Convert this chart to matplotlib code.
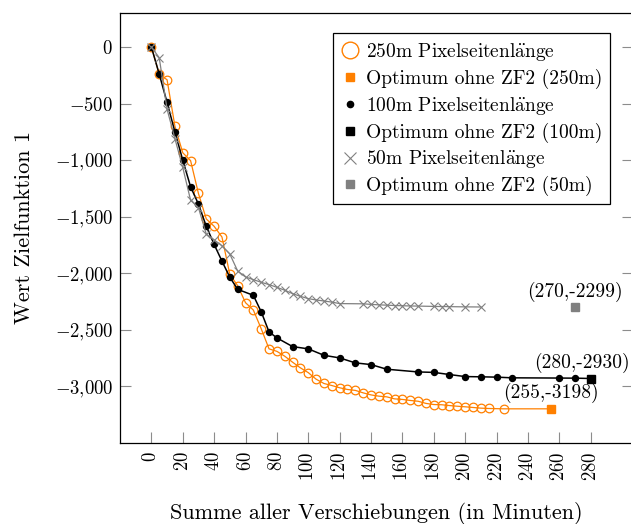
import matplotlib
matplotlib.use("Agg")
import matplotlib.pyplot as plt
from matplotlib.lines import Line2D
from matplotlib.ticker import FuncFormatter

plt.rcParams["font.family"] = "cmr10"
plt.rcParams["mathtext.fontset"] = "cm"
plt.rcParams["axes.formatter.use_mathtext"] = True

# 250m Pixelseitenlaenge
x250 = [0, 5, 10, 15, 20, 25, 30, 35, 40, 45, 50, 55, 60, 65, 70, 75, 80, 85, 90, 95,
        100, 105, 110, 115, 120, 125, 130, 135, 140, 145, 150, 155, 160, 165, 170, 175,
        180, 185, 190, 195, 200, 205, 210, 215, 225]
y250 = [0, -240, -290, -700, -935, -1005, -1295, -1520, -1585, -1680, -2010, -2110, -2260,
        -2325, -2490, -2668, -2690, -2733, -2786, -2836, -2878, -2936, -2974, -2992, -3012,
        -3027, -3035, -3057, -3075, -3086, -3092, -3110, -3115, -3124, -3131, -3150, -3160,
        -3162, -3169, -3175, -3180, -3186, -3192, -3195, -3198]
opt250 = (255, -3198)

# 100m Pixelseitenlaenge
x100 = [0, 5, 10, 15, 20, 25, 30, 35, 40, 45, 50, 55, 65, 70, 75, 80, 90, 100, 110, 120,
        130, 140, 150, 170, 180, 190, 200, 210, 220, 230, 260, 270]
y100 = [0, -240, -490, -750, -1000, -1236, -1389, -1585, -1745, -1893, -2035, -2142, -2195,
        -2340, -2518, -2571, -2648, -2668, -2725, -2748, -2792, -2807, -2848, -2872, -2876,
        -2895, -2913, -2915, -2918, -2924, -2926, -2927]
opt100 = (280, -2930)

# 50m Pixelseitenlaenge
x50 = [0, 5, 10, 15, 20, 25, 30, 35, 40, 45, 50, 55, 60, 65, 70, 75, 80, 85, 90, 95, 100,
       105, 110, 115, 120, 135, 140, 145, 150, 155, 160, 165, 170, 180, 185, 190, 200, 210]
y50 = [0, -95, -550, -810, -1065, -1355, -1420, -1655, -1705, -1757, -1830, -1980, -2033,
       -2056, -2080, -2100, -2124, -2150, -2180, -2204, -2224, -2236, -2245, -2255, -2268,
       -2270, -2275, -2279, -2282, -2285, -2287, -2289, -2290, -2293, -2294, -2295, -2297,
       -2298]
opt50 = (270, -2299)

xticks = list(range(0, 281, 20))
yticks = [0, -500, -1000, -1500, -2000, -2500, -3000]

orange = "#ff8000"
gray = "#808080"

fig = plt.figure(figsize=(6.31, 5.24), dpi=100)
ax = fig.add_axes([120 / 631, 1 - 443 / 524, 513 / 631, 430 / 524])

ax.plot(x250 + [opt250[0]], y250 + [opt250[1]], color=orange, lw=0.9, marker="o",
        ms=6.2, mfc="none", mec=orange, mew=0.9, markevery=list(range(len(x250))))
ax.plot([opt250[0]], [opt250[1]], ls="none", marker="s", ms=5.8, color=orange)

ax.plot(x100 + [opt100[0]], y100 + [opt100[1]], color="black", lw=1.1, marker="o",
        ms=4.3, markevery=list(range(len(x100))))
ax.plot([opt100[0]], [opt100[1]], ls="none", marker="s", ms=6, color="black")

ax.plot(x50, y50, color=gray, lw=0.9, marker="x", ms=6, mew=0.8)
ax.plot([opt50[0]], [opt50[1]], ls="none", marker="s", ms=5.5, color=gray)

for (px, py), dx in [(opt50, 0), (opt100, -6), (opt250, 0)]:
    ax.annotate(f"({px},-{abs(py)})", (px, py), xytext=(dx, 4), textcoords="offset points",
                ha="center", va="bottom", fontsize=14, annotation_clip=False)

ax.set_xlim(-20, 307)
ax.set_ylim(-3500, 300)
ax.set_xticks(xticks)
ax.set_yticks(yticks)
ax.xaxis.set_major_formatter(FuncFormatter(lambda v, p: f"${int(v)}$"))


def yfmt(v, p):
    v = int(v)
    if v == 0:
        return "$0$"
    s = f"{abs(v):,}".replace(",", "{,}")
    return f"$-{s}$"


ax.yaxis.set_major_formatter(FuncFormatter(yfmt))
ax.tick_params(axis="x", direction="in", length=8, width=0.8, color="0.55",
               labelsize=13.5, labelrotation=90, pad=6, top=False)
ax.tick_params(axis="y", direction="in", length=8, width=0.8, color="0.55",
               labelsize=13.5, pad=5, right=True)
for sp in ax.spines.values():
    sp.set_linewidth(0.9)

ax.set_xlabel("Summe aller Verschiebungen (in Minuten)", fontsize=16, labelpad=15)
ax.set_ylabel("Wert Zielfunktion 1", fontsize=16, labelpad=15)

handles = [
    Line2D([], [], ls="none", marker="o", ms=12, mfc="none", mec=orange, mew=1.0),
    Line2D([], [], ls="none", marker="s", ms=5.5, color=orange),
    Line2D([], [], ls="none", marker="o", ms=4.5, color="black"),
    Line2D([], [], ls="none", marker="s", ms=6, color="black"),
    Line2D([], [], ls="none", marker="x", ms=8, mew=0.8, color=gray),
    Line2D([], [], ls="none", marker="s", ms=5.5, color=gray),
]
labels = [
    r"250m Pixelseitenl$\ddot{\mathrm{a}}$nge",
    "Optimum ohne ZF2 (250m)",
    r"100m Pixelseitenl$\ddot{\mathrm{a}}$nge",
    "Optimum ohne ZF2 (100m)",
    r"50m Pixelseitenl$\ddot{\mathrm{a}}$nge",
    "Optimum ohne ZF2 (50m)",
]
leg = ax.legend(handles, labels, loc="upper left", bbox_to_anchor=(333 / 631, 1 - 33 / 524),
                bbox_transform=fig.transFigure, fontsize=14, frameon=True, fancybox=False,
                edgecolor="black", framealpha=1, handlelength=0.9, handletextpad=0.4,
                labelspacing=0.3, borderpad=0.4, borderaxespad=0)
leg.get_frame().set_linewidth(0.9)

fig.savefig("out.png", dpi=100)
